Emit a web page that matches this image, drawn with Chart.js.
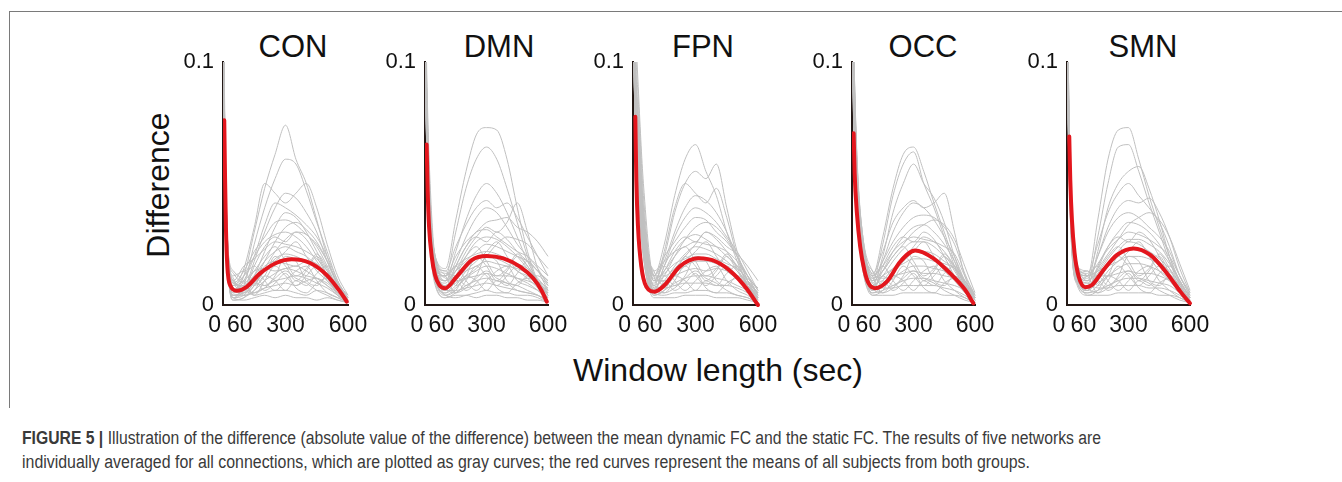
<!DOCTYPE html>
<html>
<head>
<meta charset="utf-8">
<script src="https://cdn.jsdelivr.net/npm/chart.js@4.4.1/dist/chart.umd.min.js"></script>
<style>
  html, body { margin:0; padding:0; background:#fff; }
  body { width:1342px; height:482px; position:relative; overflow:hidden; font-family:'Liberation Sans', Arial, Helvetica, sans-serif; }
  .frameTop { position:absolute; left:9px; top:11px; width:1340px; height:0; border-top:1px solid #7a7a7a; }
  .frameLeft { position:absolute; left:9px; top:11px; width:0; height:397px; border-left:1px solid #7a7a7a; }
  canvas.panel { position:absolute; }
  .ptitle { position:absolute; width:200px; text-align:center; font-size:31px; line-height:31px; top:31px; color:#111; white-space:nowrap; }
  .ylab { position:absolute; width:240px; height:32px; line-height:32px; font-size:32px; text-align:center; color:#111; transform:rotate(-90deg); white-space:nowrap; }
  .xlab { position:absolute; width:400px; text-align:center; font-size:32px; line-height:32px; color:#111; white-space:nowrap; }
  .cap { position:absolute; left:22px; font-size:18px; line-height:18px; color:#3a3a3a; white-space:nowrap; transform-origin:0 50%; }
</style>
</head>
<body>
<div class="frameTop"></div>
<div class="frameLeft"></div>
<div id="titles"></div>
<div class="ylab" id="ylab" style="left:38px; top:169px;">Difference</div>
<div class="xlab" id="xlab" style="left:518px; top:354px;">Window length (sec)</div>
<div class="cap" id="cap1" style="top:429px;"><b>FIGURE 5 |</b> Illustration of the difference (absolute value of the difference) between the mean dynamic FC and the static FC. The results of five networks are</div>
<div class="cap" id="cap2" style="top:453px;">individually averaged for all connections, which are plotted as gray curves; the red curves represent the means of all subjects from both groups.</div>

<script>
// ---------------- DATA ----------------
const networks = ['CON', 'DMN', 'FPN', 'OCC', 'SMN'];

// window lengths (sec) at which the gray (individual) curves are sampled
const xWin = [0, 10, 25, 50, 100, 150, 200, 250, 300, 350, 400, 450, 500, 550, 600];

// tick labels
const xTickAt = [-40, 80, 300, 600];
const xTickLabels = ['0', '60', '300', '600'];
const yTickAt = [0, 0.1];
const yTickLabels = ['0', '0.1'];

// gray curves (individual subjects) per network
const conGray = [
  [.14,.07,.02,.006,.012,.03,.048,.062,.074,.06,.05,.035,.02,.008,.002],
  [.12,.06,.018,.004,.008,.025,.04,.052,.06,.058,.047,.034,.022,.01,.003],
  [.13,.065,.02,.008,.015,.032,.05,.046,.042,.046,.05,.04,.025,.012,.004],
  [.11,.05,.015,.003,.006,.018,.03,.04,.046,.044,.038,.03,.018,.008,.001],
  [.12,.055,.016,.005,.01,.02,.033,.042,.04,.037,.033,.028,.02,.01,.003],
  [.10,.045,.012,.004,.005,.012,.022,.032,.038,.036,.03,.022,.014,.006,.002],
  [.13,.06,.02,.009,.014,.022,.028,.034,.035,.033,.029,.025,.018,.009,.004],
  [.11,.05,.014,.003,.004,.01,.018,.026,.032,.034,.031,.026,.018,.009,.002],
  [.12,.058,.017,.006,.012,.02,.026,.029,.03,.028,.024,.018,.012,.006,.001],
  [.10,.048,.013,.002,.003,.008,.015,.022,.027,.03,.029,.024,.016,.007,.002],
  [.12,.06,.022,.01,.016,.019,.023,.026,.025,.024,.022,.019,.014,.008,.003],
  [.11,.052,.015,.004,.006,.012,.018,.022,.024,.022,.02,.016,.011,.005,.001],
  [.13,.062,.02,.007,.005,.009,.014,.019,.021,.02,.018,.016,.013,.007,.002],
  [.10,.046,.012,.003,.007,.011,.016,.018,.017,.016,.018,.017,.012,.006,.002],
  [.12,.056,.018,.008,.01,.014,.015,.014,.015,.016,.014,.011,.008,.005,.002],
  [.11,.05,.014,.002,.003,.006,.01,.013,.015,.014,.012,.011,.009,.005,.001],
  [.13,.064,.021,.006,.008,.009,.008,.01,.011,.012,.011,.009,.007,.004,.001],
  [.10,.047,.013,.004,.004,.005,.007,.008,.009,.008,.01,.011,.008,.004,.002],
  [.12,.057,.017,.005,.006,.004,.005,.006,.006,.005,.004,.006,.005,.003,.001],
  [.11,.05,.015,.003,.002,.003,.004,.003,.004,.003,.003,.002,.003,.002,.001],
  [.12,.06,.02,.012,.014,.008,.012,.02,.016,.01,.014,.02,.012,.004,.001],
  [.11,.055,.018,.01,.006,.012,.008,.012,.02,.018,.01,.008,.012,.008,.002],
  [.13,.065,.022,.014,.01,.004,.01,.016,.012,.008,.012,.016,.01,.006,.001],
  [.10,.05,.016,.008,.012,.016,.01,.006,.01,.014,.016,.01,.005,.003,.001],
  [.12,.058,.019,.011,.004,.006,.012,.01,.006,.01,.008,.013,.016,.009,.002],
  [.11,.052,.017,.009,.008,.01,.006,.009,.013,.007,.005,.009,.011,.007,.001],
  [.13,.062,.021,.013,.009,.014,.02,.024,.018,.012,.015,.021,.015,.006,.002],
  [.10,.048,.015,.006,.005,.008,.014,.018,.022,.026,.02,.014,.01,.005,.001],
  [.12,.06,.02,.01,.007,.005,.007,.011,.014,.011,.009,.006,.004,.002,.001],
  [.11,.054,.018,.009,.006,.016,.024,.028,.026,.03,.027,.02,.012,.005,.001]
];
const dmnGray = [
  [.14,.09,.05,.02,.015,.035,.055,.07,.073,.072,.06,.04,.022,.01,.004],
  [.13,.085,.045,.018,.012,.03,.048,.06,.065,.06,.048,.034,.02,.009,.003],
  [.12,.08,.04,.016,.01,.022,.035,.045,.05,.046,.038,.028,.018,.01,.004],
  [.13,.08,.042,.02,.014,.024,.033,.04,.043,.04,.042,.036,.028,.02,.012],
  [.11,.07,.035,.014,.01,.018,.028,.036,.04,.038,.032,.025,.02,.015,.008],
  [.12,.075,.038,.015,.012,.02,.026,.03,.034,.035,.036,.032,.03,.026,.02],
  [.13,.082,.044,.018,.008,.014,.022,.028,.032,.03,.034,.042,.03,.015,.006],
  [.10,.065,.03,.012,.009,.016,.024,.03,.031,.028,.025,.022,.02,.016,.012],
  [.12,.074,.036,.014,.006,.012,.02,.026,.028,.027,.024,.02,.015,.01,.005],
  [.11,.068,.032,.013,.01,.014,.018,.022,.025,.024,.022,.02,.018,.014,.01],
  [.13,.08,.04,.017,.012,.016,.019,.021,.022,.021,.019,.017,.015,.011,.006],
  [.10,.062,.028,.01,.005,.01,.015,.019,.02,.019,.017,.014,.011,.007,.003],
  [.12,.072,.034,.016,.013,.012,.014,.016,.018,.017,.016,.015,.013,.01,.007],
  [.11,.066,.03,.011,.004,.007,.011,.014,.016,.015,.013,.011,.009,.006,.002],
  [.13,.078,.04,.019,.011,.01,.011,.012,.013,.012,.012,.011,.01,.008,.005],
  [.10,.06,.027,.009,.003,.005,.008,.01,.011,.01,.009,.008,.006,.004,.001],
  [.12,.07,.033,.013,.006,.006,.007,.008,.009,.008,.007,.006,.005,.004,.002],
  [.11,.064,.029,.012,.004,.003,.004,.005,.006,.005,.005,.004,.004,.003,.001],
  [.12,.073,.035,.015,.008,.009,.012,.015,.02,.025,.028,.027,.025,.02,.015],
  [.10,.06,.026,.008,.003,.004,.004,.003,.004,.004,.003,.003,.002,.002,.001],
  [.12,.07,.034,.016,.014,.008,.012,.02,.016,.01,.014,.02,.016,.01,.004],
  [.11,.066,.03,.014,.006,.012,.008,.012,.02,.018,.01,.008,.012,.012,.008],
  [.13,.078,.04,.02,.012,.005,.01,.016,.012,.008,.012,.016,.014,.01,.004],
  [.10,.06,.027,.012,.012,.016,.01,.006,.01,.014,.016,.01,.008,.006,.003],
  [.12,.072,.035,.017,.004,.006,.012,.01,.006,.01,.008,.013,.018,.014,.01],
  [.11,.064,.03,.013,.008,.01,.006,.009,.013,.007,.005,.009,.011,.009,.006],
  [.13,.076,.038,.019,.01,.014,.02,.024,.018,.012,.015,.021,.016,.01,.005],
  [.10,.058,.026,.011,.005,.008,.014,.018,.022,.026,.02,.014,.012,.008,.004],
  [.12,.07,.033,.016,.007,.005,.007,.011,.014,.011,.009,.006,.005,.004,.002],
  [.11,.066,.03,.014,.006,.016,.024,.028,.026,.03,.027,.022,.018,.014,.009]
];
const fpnGray = [
  [.15,.12,.09,.05,.012,.025,.045,.06,.066,.055,.045,.03,.018,.008,.002],
  [.14,.11,.085,.045,.01,.02,.038,.05,.055,.052,.058,.04,.022,.01,.003],
  [.13,.10,.08,.04,.008,.022,.04,.05,.046,.042,.048,.036,.02,.008,.002],
  [.15,.11,.07,.035,.01,.018,.03,.04,.045,.043,.038,.03,.02,.012,.004],
  [.12,.09,.06,.03,.006,.016,.028,.036,.04,.038,.034,.028,.022,.014,.006],
  [.14,.10,.075,.04,.012,.02,.026,.032,.036,.035,.03,.026,.02,.012,.004],
  [.13,.095,.065,.028,.007,.012,.02,.027,.032,.034,.032,.027,.02,.01,.002],
  [.12,.085,.055,.025,.009,.014,.022,.027,.029,.027,.024,.02,.016,.01,.005],
  [.14,.10,.07,.036,.014,.018,.022,.024,.026,.025,.024,.022,.018,.012,.006],
  [.11,.08,.05,.022,.005,.01,.016,.021,.024,.023,.021,.018,.014,.009,.003],
  [.13,.092,.062,.03,.011,.013,.017,.019,.021,.021,.019,.017,.015,.011,.007],
  [.12,.086,.056,.026,.006,.009,.013,.016,.018,.018,.017,.015,.012,.008,.004],
  [.14,.098,.068,.034,.01,.01,.012,.014,.015,.014,.015,.014,.012,.009,.005],
  [.11,.078,.048,.02,.004,.006,.009,.011,.012,.012,.011,.01,.008,.006,.003],
  [.13,.09,.06,.027,.008,.007,.008,.009,.009,.009,.008,.008,.007,.005,.002],
  [.12,.084,.052,.024,.005,.004,.005,.005,.006,.006,.005,.005,.004,.003,.001],
  [.13,.094,.064,.032,.012,.012,.015,.02,.025,.03,.028,.024,.021,.016,.01],
  [.12,.082,.05,.021,.003,.003,.003,.004,.004,.004,.003,.003,.003,.002,.001],
  [.13,.1,.07,.03,.014,.008,.012,.02,.016,.01,.014,.02,.014,.008,.003],
  [.12,.09,.06,.026,.006,.012,.008,.012,.02,.018,.01,.008,.012,.01,.005],
  [.14,.1,.072,.034,.012,.005,.01,.016,.012,.008,.012,.016,.012,.008,.002],
  [.11,.08,.05,.022,.012,.016,.01,.006,.01,.014,.016,.01,.006,.004,.001],
  [.13,.095,.066,.032,.004,.006,.012,.01,.006,.01,.008,.013,.016,.012,.006],
  [.12,.086,.056,.025,.008,.01,.006,.009,.013,.007,.005,.009,.011,.008,.004],
  [.14,.1,.074,.036,.01,.014,.02,.024,.018,.012,.015,.021,.015,.008,.003],
  [.11,.078,.046,.02,.005,.008,.014,.018,.022,.026,.02,.014,.011,.007,.002],
  [.13,.094,.062,.03,.007,.005,.007,.011,.014,.011,.009,.006,.004,.003,.001],
  [.12,.088,.058,.028,.006,.016,.024,.028,.026,.03,.027,.022,.016,.01,.004]
];
const occGray = [
  [.14,.10,.06,.03,.012,.028,.048,.062,.065,.055,.042,.03,.018,.008,.002],
  [.13,.095,.055,.028,.01,.025,.045,.058,.063,.05,.04,.028,.016,.007,.002],
  [.12,.09,.05,.025,.008,.02,.038,.05,.058,.05,.044,.034,.02,.009,.002],
  [.14,.10,.058,.03,.013,.022,.034,.04,.043,.04,.042,.046,.03,.012,.003],
  [.12,.085,.048,.022,.009,.018,.03,.038,.042,.04,.035,.028,.02,.01,.003],
  [.13,.092,.052,.026,.011,.018,.026,.032,.036,.037,.036,.032,.025,.013,.004],
  [.11,.08,.045,.02,.007,.014,.022,.028,.032,.033,.03,.025,.018,.009,.002],
  [.13,.095,.055,.028,.012,.016,.022,.026,.028,.027,.026,.024,.021,.012,.004],
  [.12,.086,.048,.022,.008,.012,.018,.023,.026,.026,.024,.02,.016,.009,.003],
  [.11,.078,.042,.019,.006,.01,.015,.019,.022,.022,.021,.018,.015,.01,.004],
  [.13,.09,.052,.025,.01,.012,.015,.017,.019,.019,.018,.017,.015,.01,.004],
  [.12,.084,.046,.021,.007,.008,.011,.014,.016,.016,.015,.014,.012,.008,.003],
  [.14,.098,.058,.03,.014,.011,.012,.013,.014,.013,.013,.012,.011,.008,.003],
  [.11,.076,.04,.018,.005,.006,.008,.01,.011,.011,.01,.009,.008,.006,.002],
  [.12,.088,.05,.024,.009,.007,.007,.008,.008,.008,.008,.007,.006,.004,.001],
  [.13,.092,.054,.027,.011,.014,.02,.025,.03,.033,.035,.033,.027,.016,.005],
  [.11,.074,.038,.016,.004,.004,.004,.005,.005,.005,.005,.004,.004,.003,.001],
  [.12,.083,.046,.022,.006,.009,.013,.018,.024,.028,.026,.022,.016,.008,.002],
  [.12,.09,.05,.024,.014,.008,.012,.02,.016,.01,.014,.02,.014,.007,.002],
  [.11,.08,.044,.02,.006,.012,.008,.012,.02,.018,.01,.008,.012,.008,.003],
  [.13,.095,.055,.027,.012,.005,.01,.016,.012,.008,.012,.016,.012,.006,.001],
  [.10,.072,.04,.018,.012,.016,.01,.006,.01,.014,.016,.01,.006,.003,.001],
  [.12,.088,.05,.025,.004,.006,.012,.01,.006,.01,.008,.013,.016,.01,.003],
  [.11,.078,.042,.019,.008,.01,.006,.009,.013,.007,.005,.009,.011,.007,.002],
  [.13,.094,.054,.028,.01,.014,.02,.024,.018,.012,.015,.021,.015,.007,.002],
  [.10,.07,.038,.016,.005,.008,.014,.018,.022,.026,.02,.014,.01,.005,.001],
  [.12,.086,.048,.023,.007,.005,.007,.011,.014,.011,.009,.006,.004,.002,.001],
  [.11,.08,.045,.021,.006,.016,.024,.028,.026,.03,.027,.02,.012,.006,.001]
];
const smnGray = [
  [.14,.08,.035,.015,.012,.035,.06,.072,.073,.06,.045,.032,.02,.01,.003],
  [.13,.075,.03,.013,.01,.028,.05,.065,.066,.055,.042,.03,.018,.008,.002],
  [.12,.07,.028,.012,.008,.022,.04,.05,.055,.057,.048,.035,.02,.009,.002],
  [.14,.078,.034,.016,.013,.025,.038,.046,.05,.045,.04,.034,.024,.012,.004],
  [.12,.068,.027,.011,.009,.02,.032,.04,.043,.042,.044,.038,.028,.015,.005],
  [.13,.074,.031,.014,.011,.02,.03,.036,.038,.036,.032,.028,.022,.012,.004],
  [.11,.062,.024,.01,.007,.015,.024,.03,.034,.033,.03,.025,.018,.01,.003],
  [.13,.072,.03,.013,.012,.017,.023,.027,.03,.029,.027,.024,.02,.012,.005],
  [.12,.066,.026,.011,.008,.013,.019,.024,.027,.027,.025,.022,.017,.01,.003],
  [.11,.06,.023,.009,.006,.01,.016,.02,.023,.023,.022,.019,.015,.009,.003],
  [.13,.073,.031,.014,.012,.014,.016,.018,.02,.02,.019,.017,.014,.009,.004],
  [.12,.065,.025,.01,.007,.009,.012,.015,.017,.017,.016,.014,.011,.007,.002],
  [.14,.079,.034,.016,.014,.012,.012,.013,.014,.013,.013,.012,.01,.007,.003],
  [.11,.058,.022,.009,.005,.006,.008,.01,.011,.011,.01,.009,.008,.005,.002],
  [.12,.067,.027,.012,.009,.007,.007,.008,.008,.008,.007,.007,.006,.004,.001],
  [.13,.07,.029,.013,.01,.015,.021,.027,.033,.036,.038,.035,.028,.017,.006],
  [.11,.056,.021,.008,.004,.004,.004,.005,.005,.005,.005,.004,.004,.003,.001],
  [.12,.064,.026,.011,.006,.01,.016,.022,.026,.025,.022,.018,.013,.008,.002],
  [.12,.066,.027,.013,.014,.008,.012,.02,.016,.01,.014,.02,.013,.006,.002],
  [.11,.06,.024,.012,.006,.012,.008,.012,.02,.018,.01,.008,.012,.008,.002],
  [.13,.072,.03,.016,.012,.005,.01,.016,.012,.008,.012,.016,.011,.006,.001],
  [.10,.055,.021,.01,.012,.016,.01,.006,.01,.014,.016,.01,.006,.003,.001],
  [.12,.068,.028,.014,.004,.006,.012,.01,.006,.01,.008,.013,.016,.01,.003],
  [.11,.062,.025,.012,.008,.01,.006,.009,.013,.007,.005,.009,.011,.007,.002],
  [.13,.074,.031,.017,.01,.014,.02,.024,.018,.012,.015,.021,.015,.007,.002],
  [.10,.054,.02,.009,.005,.008,.014,.018,.022,.026,.02,.014,.01,.005,.001],
  [.12,.066,.027,.013,.007,.005,.007,.011,.014,.011,.009,.006,.004,.002,.001],
  [.11,.06,.024,.011,.006,.016,.024,.028,.026,.03,.027,.02,.012,.006,.001]
];

// red curves (group mean)
const conMeanX = [6, 10, 14, 21, 34, 66, 114, 178, 258, 330, 418, 498, 562, 594];
const conMeanY = [.076, .0514, .032, .0157, .0082, .0059, .0075, .013, .0174, .0188, .0173, .0123, .0055, .0014];
const dmnMeanX = [8, 13, 20, 33, 49, 70, 98, 155, 228, 301, 382, 463, 528, 569, 594];
const dmnMeanY = [.066, .047, .032, .0199, .0123, .0082, .0069, .0117, .0185, .0202, .0192, .0158, .011, .0059, .0014];
const fpnMeanX = [11, 16, 24, 40, 64, 104, 152, 224, 314, 400, 480, 544, 600];
const fpnMeanY = [.0775, .0514, .0322, .0158, .0075, .0055, .0082, .0158, .0192, .0178, .013, .0069, 0];
const occMeanX = [8, 13, 24, 40, 60, 81, 114, 170, 235, 308, 397, 479, 552, 592];
const occMeanY = [.0707, .054, .0377, .024, .0144, .0089, .0069, .0096, .0178, .0224, .0192, .013, .0062, .0007];
const smnMeanX = [11, 16, 24, 37, 57, 89, 122, 178, 244, 325, 406, 488, 553, 600];
const smnMeanY = [.0693, .0514, .035, .0213, .0117, .0073, .0082, .0144, .0206, .0233, .0206, .013, .0055, .0007];

// ---------------- LAYOUT / STYLE ----------------
const panelAxisX = [223, 425, 633, 852, 1067];
const panelPlotW = [125, 123, 125, 123, 123];
const titleCenterX = [293, 499, 703, 923, 1143];
const grayData = [conGray, dmnGray, fpnGray, occGray, smnGray];
const meanX = [conMeanX, dmnMeanX, fpnMeanX, occMeanX, smnMeanX];
const meanY = [conMeanY, dmnMeanY, fpnMeanY, occMeanY, smnMeanY];

const FONT = "'Liberation Sans', Arial, Helvetica, sans-serif";
const AXIS_COLOR = '#231815';
const TOP = 40, PAD_TOP = 22, PLOT_H = 243, CANVAS_H = 310, YW = 60, PAD_R = 20;

const titlesDiv = document.getElementById('titles');

networks.forEach((name, p) => {
  const t = document.createElement('div');
  t.className = 'ptitle';
  t.textContent = name;
  t.style.left = (titleCenterX[p] - 100) + 'px';
  titlesDiv.appendChild(t);

  const cv = document.createElement('canvas');
  cv.className = 'panel';
  const W = YW + panelPlotW[p] + PAD_R;
  cv.width = W; cv.height = CANVAS_H;
  cv.style.width = W + 'px'; cv.style.height = CANVAS_H + 'px';
  cv.style.left = (panelAxisX[p] - YW) + 'px';
  cv.style.top = TOP + 'px';
  document.body.appendChild(cv);

  const datasets = [];
  datasets.push({
    data: meanX[p].map((x, i) => ({ x: x, y: meanY[p][i] })),
    borderColor: '#e3161d', borderWidth: 4, pointRadius: 0,
    cubicInterpolationMode: 'monotone', fill: false,
    clip: { left: 0, top: 0, right: 3, bottom: 3 }, borderCapStyle: 'round'
  });
  grayData[p].forEach(series => {
    datasets.push({
      data: series.map((v, i) => ({ x: xWin[i], y: v })),
      borderColor: '#c0c0c0', borderWidth: 1, pointRadius: 0,
      cubicInterpolationMode: 'monotone', fill: false,
      clip: { left: 0, top: 0, right: 1, bottom: 1 }
    });
  });

  new Chart(cv, {
    type: 'line',
    data: { datasets },
    options: {
      responsive: false, animation: false, devicePixelRatio: 1,
      layout: { padding: { top: PAD_TOP, right: PAD_R, left: 0, bottom: 0 } },
      plugins: { legend: { display: false }, tooltip: { enabled: false }, title: { display: false } },
      scales: {
        x: {
          type: 'linear', min: 0, max: 600, z: 1,
          grid: { display: false, drawTicks: false },
          border: { display: true, color: AXIS_COLOR, width: 2 },
          afterBuildTicks: s => { s.ticks = xTickAt.map(v => ({ value: v })); },
          afterFit: s => { s.height = CANVAS_H - PAD_TOP - PLOT_H; s.paddingLeft = 0; s.paddingRight = 0; },
          ticks: {
            autoSkip: false, maxRotation: 0, minRotation: 0, padding: 7,
            color: '#111', font: { family: FONT, size: 23 },
            callback: (v, i) => xTickLabels[i]
          }
        },
        y: {
          type: 'linear', min: 0, max: 0.1, z: 1,
          grid: { display: false, drawTicks: false },
          border: { display: true, color: AXIS_COLOR, width: 2 },
          afterBuildTicks: s => { s.ticks = yTickAt.map(v => ({ value: v })); },
          afterFit: s => { s.width = YW; s.paddingTop = 0; s.paddingBottom = 0; },
          ticks: {
            autoSkip: false, padding: 9,
            color: '#111', font: { family: FONT, size: 22 },
            callback: (v, i) => yTickLabels[i]
          }
        }
      }
    }
  });
});

// condense the caption face so that each line spans its reference width
function fitLine(id, target) {
  const el = document.getElementById(id);
  const w = el.getBoundingClientRect().width;
  el.style.transform = 'scaleX(' + (target / w) + ')';
}
fitLine('cap1', 1079);
fitLine('cap2', 1008);
</script>
</body>
</html>
